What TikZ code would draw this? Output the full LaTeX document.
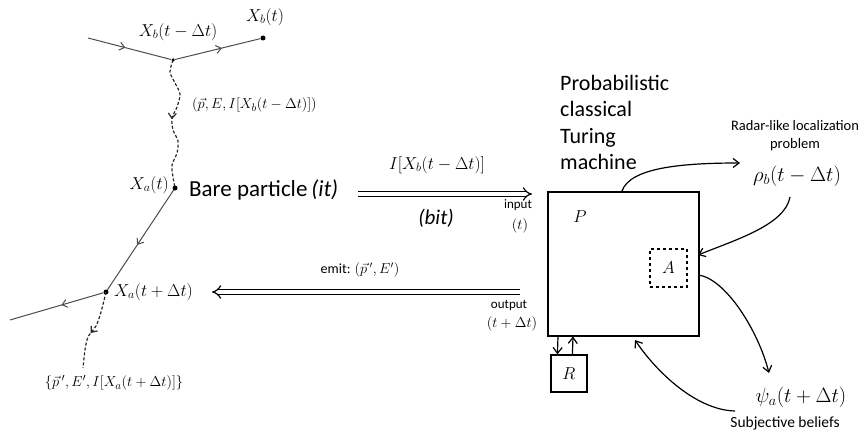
\documentclass[tikz,border=0pt]{standalone}
\usepackage{fontspec}
\setmainfont{Carlito}
\usetikzlibrary{arrows.meta,decorations.markings,calc}
\begin{document}
\begin{tikzpicture}[x=1pt,y=-1pt,
  wl/.style={draw=black!70, line width=1pt},
  wavy/.style={draw=black!85, line width=1.2pt, dash pattern=on 3pt off 2pt},
  midarr/.style={postaction={decorate},decoration={markings,mark=at position #1 with {\arrow{Straight Barb[length=5pt,width=8pt]}}}},
  dot/.style={circle,fill=black,inner sep=0pt,minimum size=5pt},
  mlab/.style={font=\fontsize{17}{20}\selectfont, inner sep=1pt},
  llab/.style={font=\fontsize{15}{18}\selectfont, inner sep=1pt},
  slab/.style={font=\fontsize{13}{15}\selectfont, inner sep=1pt},
  smath/.style={font=\fontsize{14}{16}\selectfont, inner sep=1pt},
  dbl/.style={double, double distance=3.5pt, line width=1.2pt, -{Implies[scale=1.5]}},
  arr/.style={line width=1.2pt, -{Straight Barb[length=6pt,width=9pt]}},
  boxline/.style={draw, line width=1.5pt, inner sep=0pt}
]
\useasboundingbox (0,0) rectangle (864,436);

% ---- left: particle world lines ----
\coordinate (in) at (88,38);
\node[dot, minimum size=3.5pt] (jb) at (173,60) {};
\node[dot] (xbt) at (263,38) {};
\node[dot] (xat) at (175,188) {};
\node[dot] (xatp) at (106,292) {};
\coordinate (out) at (10,320);
\coordinate (wend) at (83,368);

\draw[wl, midarr=0.45] (in) -- (jb);
\draw[wl, midarr=0.55] (jb) -- (xbt);
\draw[wl, midarr=0.55] (xat) -- (xatp);
\draw[wl, midarr=0.45] (xatp) -- (out);

\draw[wavy, midarr=0.47] plot[smooth] coordinates {(jb) (170,72) (175,83) (180,94) (177,107) (172,118) (173,130) (178,141) (177,153) (172,165) (173,177) (xat)};
\draw[wavy, midarr=0.55] plot[smooth] coordinates {(xatp) (101,312) (96,326) (88,337) (85,350) (wend)};

\node[mlab] (lxbtd) at (178,32) {$X_b(t-\Delta t)$};
\node[mlab] (lxbt) at (265,17) {$X_b(t)$};
\node[llab, anchor=west] (lpe) at (191,105) {$(\vec{p},E,I[X_b(t-\Delta t)])$};
\node[mlab, anchor=east] (lxat) at (170,185) {$X_a(t)$};
\node[mlab, anchor=west] (lxatp) at (113,292) {$X_a(t+\Delta t)$};
\node[llab] (lpe2) at (114,383) {$\{\vec{p}\,',E',I[X_a(t+\Delta t)]\}$};
\node[font=\fontsize{23}{25}\selectfont, anchor=west, inner sep=0pt] (bare) at (189,190) {Bare particle\,\textit{(it)}};

% ---- middle: double arrows ----
\coordinate (ua1) at (358,194);
\coordinate (ua2) at (532,194);
\draw[dbl] (ua1) -- (ua2);
\node[font=\fontsize{18}{20}\selectfont] (linfo) at (437,165) {$I[X_b(t-\Delta t)]$};
\node[font=\fontsize{21}{22}\selectfont\itshape] (bit) at (436,218) {(bit)};
\node[slab] (input) at (518,205) {input};
\node[smath] (inputt) at (520,226) {$(t)$};

\coordinate (la1) at (520,292);
\coordinate (la2) at (212,292);
\draw[dbl] (la1) -- (la2);
\node[font=\fontsize{14}{16}\selectfont] (emit) at (360,270) {emit: $(\vec{p}\,',E')$};
\node[slab] (output) at (509,305) {output};
\node[smath] (outputt) at (512,324) {$(t+\Delta t)$};

% ---- right: Turing machine ----
\node[boxline, minimum width=151pt, minimum height=144pt, anchor=north west] (mach) at (547,191) {};
\node[font=\fontsize{18}{20}\selectfont] (plab) at (580,217) {$P$};
\node[draw, dashed, line width=1.2pt, minimum width=37pt, minimum height=38pt, inner sep=0pt, font=\fontsize{18}{20}\selectfont] (abox) at (668.5,268) {$A$};
\node[draw, line width=1.2pt, minimum width=36pt, minimum height=37pt, inner sep=0pt, font=\fontsize{18}{20}\selectfont] (rbox) at (569,373.5) {$R$};

\draw[arr] ($(mach.south west)+(11,0)$) -- ($(rbox.north west)+(7,0)$);
\draw[arr] ($(rbox.north west)+(22,0)$) -- ($(mach.south west)+(26,0)$);

\node[font=\fontsize{22}{26.3}\selectfont, align=left, anchor=north west, inner sep=0pt] (tm) at (560,75) {Probabilistic\\classical\\Turing\\machine};

\node[font=\fontsize{14.5}{18}\selectfont, align=center] (radar) at (795,136) {Radar-like localization\\problem};
\node[font=\fontsize{22}{24}\selectfont] (rho) at (797,176) {$\rho_b(t-\Delta t)$};
\node[font=\fontsize{22}{24}\selectfont] (psi) at (801,397) {$\psi_a(t+\Delta t)$};
\node[font=\fontsize{15.5}{17}\selectfont] (subj) at (785,423) {Subjective beliefs};

\coordinate (c1s) at (622,191);
\coordinate (c1e) at (740,163);
\draw[arr] (c1s) .. controls (630,168) and (680,163) .. (c1e);
\coordinate (c2s) at (790,197);
\coordinate (c2e) at (698,255);
\draw[arr] (c2s) .. controls (785,225) and (735,240) .. (c2e);
\coordinate (c3s) at (698,275);
\coordinate (c3e) at (769,373);
\draw[arr] (c3s) .. controls (725,278) and (758,330) .. (c3e);
\coordinate (c4s) at (735,411);
\coordinate (c4e) at (635,340);
\draw[arr] (c4s) .. controls (695,410) and (655,370) .. (c4e);
\end{tikzpicture}
\end{document}
